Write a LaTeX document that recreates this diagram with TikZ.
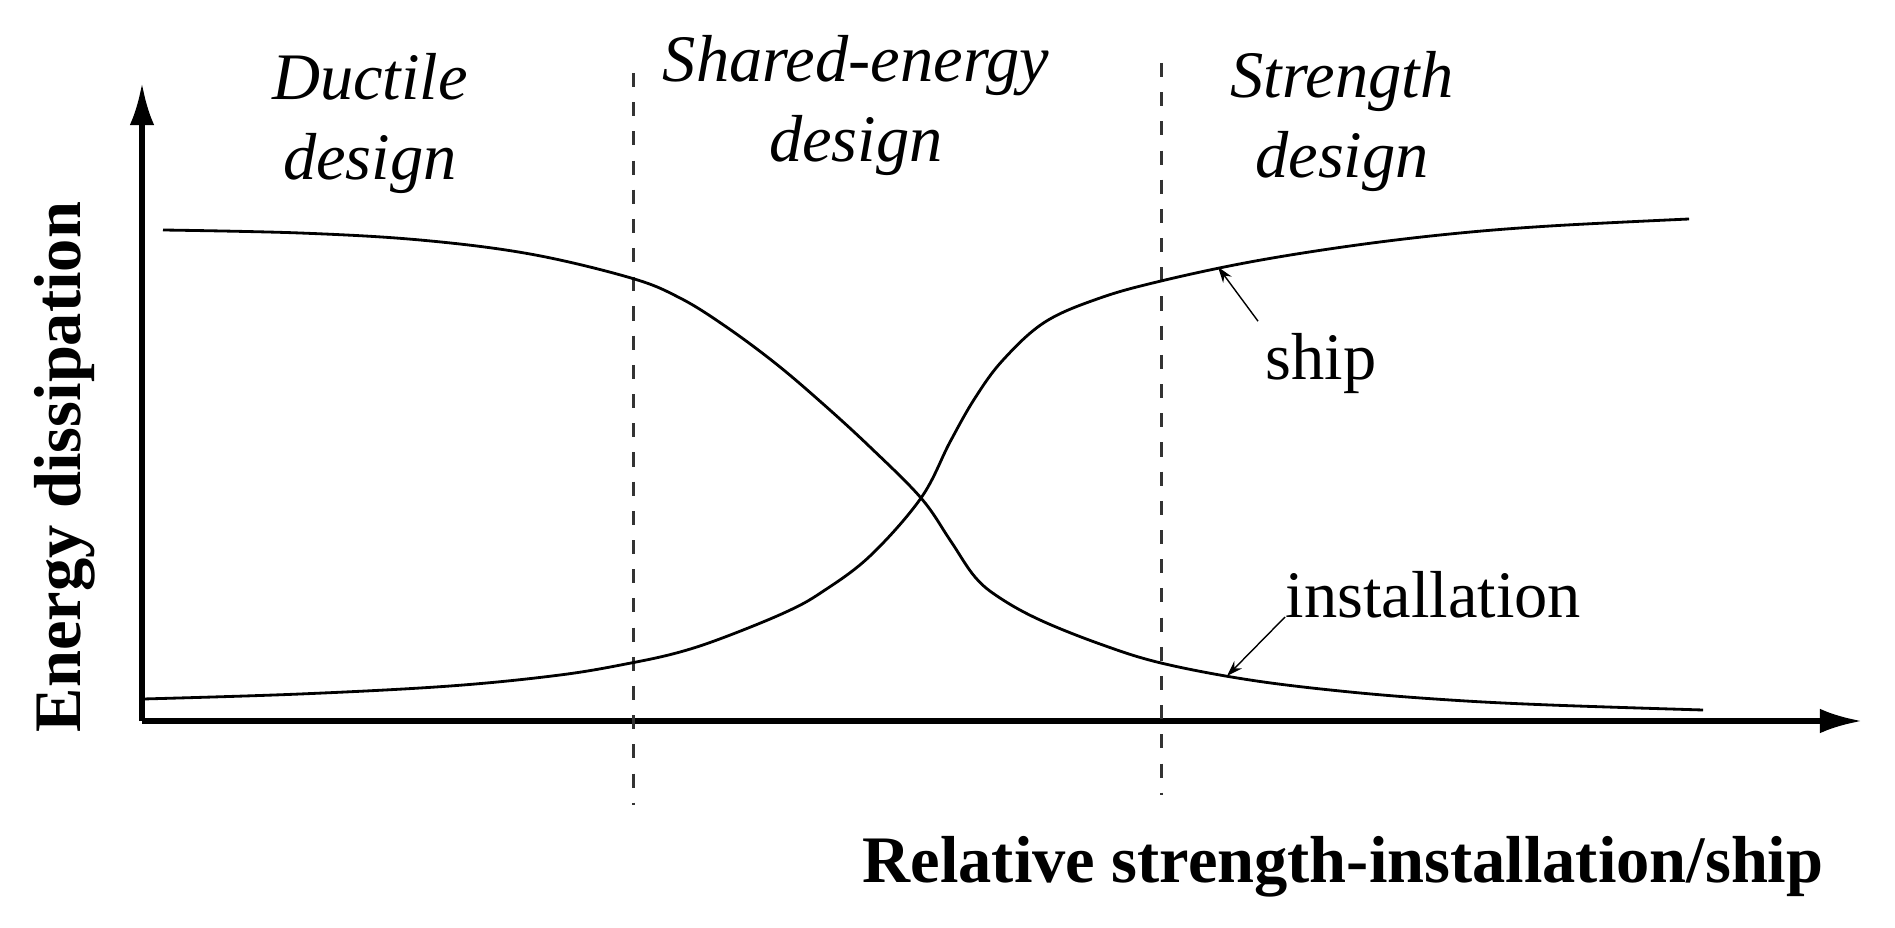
\documentclass[tikz,border=0pt]{standalone}
\usepackage{fontspec}
\setmainfont{Liberation Serif}
\usetikzlibrary{arrows.meta}
\tikzset{
  axisline/.style={line width=1.5pt, -{Latex[length=12pt,width=7pt]}},
  curveline/.style={line width=0.8pt},
  divline/.style={line width=0.85pt, draw=black!80, dash pattern=on 4pt off 4.3pt},
  pointer/.style={line width=0.4pt, -{Stealth[length=4.5pt,width=3pt]}},
  zonelabel/.style={font=\fontsize{18.9}{22.8}\selectfont\itshape, align=center, inner sep=0pt},
  curvelabel/.style={font=\fontsize{18.9}{22.8}\selectfont, inner sep=0pt},
  axislabel/.style={font=\fontsize{18.9}{22.8}\selectfont\bfseries, inner sep=0pt}
}
\begin{document}
\begin{tikzpicture}[x=0.01cm,y=-0.01cm]
\useasboundingbox (0,0) rectangle (1895,928);
% axes
\coordinate (O) at (142,721);
\coordinate (ytop) at (142,83);
\coordinate (xend) at (1862,721);
\draw[axisline] (O) -- (ytop);
\draw[axisline] (O) -- (xend);
% dashed dividers
\coordinate (d1t) at (633,73);
\coordinate (d1b) at (633,805);
\coordinate (d2t) at (1161,63);
\coordinate (d2b) at (1161,795);
\draw[divline] (d1t) -- (d1b);
\draw[divline] (d2t) -- (d2b);
% ship curve
\draw[curveline] plot[smooth, tension=0.6] coordinates {
 (143,699) (300,694) (450,686) (560,675) (631,663) (680,652) (725,637) (786,612)
 (822,592) (870,556) (921,498) (950,442) (975,398) (1003,360) (1045,322) (1100,298)
 (1161,281) (1250,262) (1350,246) (1450,234) (1550,226) (1689,219)};
% installation curve
\draw[curveline] plot[smooth, tension=0.6] coordinates {
 (163,230) (300,233) (420,240) (530,254) (631,278) (680,298) (725,326) (775,363)
 (822,403) (870,447) (921,498) (950,540) (975,577) (1000,598) (1040,620)
 (1100,644) (1161,663) (1250,680) (1350,692) (1450,700) (1550,705) (1703,710)};
% zone labels
\node[zonelabel, anchor=base] (duct) at (370,180) {Ductile\\design};
\node[zonelabel, anchor=base] (shared) at (856,162) {Shared-energy\\design};
\node[zonelabel, anchor=base] (strength) at (1342,178) {Strength\\design};
% curve labels
\node[curvelabel, anchor=base west] (ship) at (1265,380) {ship};
\node[curvelabel, anchor=base west] (inst) at (1285,617) {installation};
\coordinate (shipPt) at (1218,267);
\coordinate (instPt) at (1227,676);
\draw[pointer] (ship.north west) ++(-7,-12) coordinate (shipStart) -- (shipPt);
\draw[pointer] (inst.base west) -- (instPt);
% axis labels
\node[axislabel, anchor=base, rotate=90] (ylab) at (80,467) {Energy dissipation};
\node[axislabel, anchor=base] (xlab) at (1343,882) {Relative strength-installation/ship};
\end{tikzpicture}
\end{document}
